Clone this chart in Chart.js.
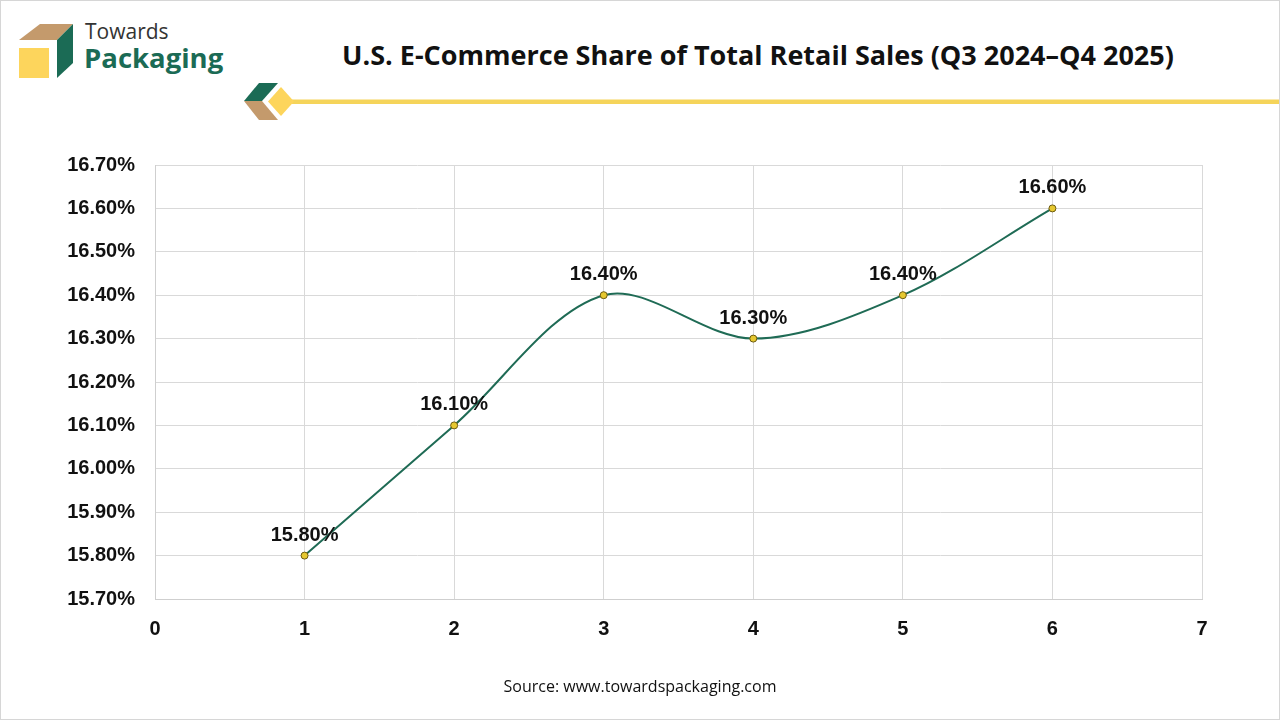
<!DOCTYPE html>
<html><head><meta charset="utf-8">
<script src="https://cdn.jsdelivr.net/npm/chart.js@4/dist/chart.umd.min.js"></script>
<style>
html,body{margin:0;padding:0;background:#fff;}
#wrap{position:relative;width:1280px;height:720px;overflow:hidden;background:#fff;}
#frame{position:absolute;left:0;top:0;width:1278px;height:718px;border:1px solid #d6d6d6;pointer-events:none;}
#chartBox{position:absolute;left:0;top:0;width:1280px;height:720px;}
#title{position:absolute;left:338px;top:36px;width:840px;text-align:center;font:bold 27px "Open Sans",sans-serif;color:#111;white-space:nowrap;}
#source{position:absolute;left:0;top:675px;width:1280px;text-align:center;font:16px "Open Sans",sans-serif;color:#111;}
#t1{position:absolute;left:85px;top:17px;font:400 21px "Open Sans",sans-serif;color:#333;}
#t2{position:absolute;left:84px;top:39px;font:700 27.5px "Open Sans",sans-serif;color:#1b6b55;}
svg{position:absolute;left:0;top:0;}
</style></head>
<body><div id="wrap">
<svg width="1280" height="130">
  <polygon points="40,24 73,24 57,40 19,40" fill="#c49a6c"/>
  <polygon points="57,40 73,24 73,63 57,78" fill="#1b6b55"/>
  <rect x="19" y="48" width="30" height="30" fill="#fdd55c"/>
  <polygon points="259,83 278,83 262,101 244,101" fill="#1b6b55"/>
  <polygon points="244,101 262,101 278,120 259,120" fill="#c49a6c"/>
  <rect x="288" y="99.5" width="992" height="4.5" fill="#f5d45a"/>
  <polygon points="281,87 294,101.5 281,116 268,101.5" fill="#fdd55c"/>
</svg>
<div id="t1">Towards</div>
<div id="t2">Packaging</div>
<div id="title">U.S. E-Commerce Share of Total Retail Sales (Q3 2024–Q4 2025)</div>
<div id="chartBox"><canvas id="c" width="1280" height="720"></canvas></div>
<div id="source">Source: www.towardspackaging.com</div>
<div id="frame"></div>
</div>
<script>
const quarters = [1, 2, 3, 4, 5, 6];
const shareValues = [15.80, 16.10, 16.40, 16.30, 16.40, 16.60];
const yTickMin = 15.7, yTickMax = 16.7, yStep = 0.1;
const xTickMin = 0, xTickMax = 7;

const points = quarters.map((q, i) => ({x: q, y: shareValues[i]}));

const labelPlugin = {
  id: 'dataLabels',
  afterDatasetsDraw(chart) {
    const ctx = chart.ctx;
    const meta = chart.getDatasetMeta(0);
    ctx.save();
    ctx.font = 'bold 20px "Liberation Sans", Arial, sans-serif';
    ctx.fillStyle = '#111';
    ctx.textAlign = 'center';
    ctx.textBaseline = 'alphabetic';
    meta.data.forEach((el, i) => {
      ctx.fillText(shareValues[i].toFixed(2) + '%', el.x, el.y - 15);
    });
    ctx.restore();
  }
};

new Chart(document.getElementById('c'), {
  type: 'scatter',
  data: { datasets: [{
    data: points,
    showLine: true,
    borderColor: '#1f6b55',
    borderWidth: 2,
    tension: 0.33,
    pointRadius: 3.5,
    pointBackgroundColor: '#e6c830',
    pointBorderColor: '#6b5a10',
    pointBorderWidth: 1
  }]},
  options: {
    responsive: false,
    animation: false,
    devicePixelRatio: 1,
    layout: { padding: { left: 40, right: 78, top: 165, bottom: 60 } },
    plugins: { legend: {display: false}, tooltip: {enabled: false} },
    scales: {
      x: {
        type: 'linear', min: xTickMin, max: xTickMax,
        ticks: { stepSize: 1, padding: 18, color: '#111', font: {family: '"Liberation Sans", Arial, sans-serif', size: 20, weight: 'bold'} },
        grid: { color: '#d9d9d9', drawTicks: false },
        border: { color: '#cfcfcf' },
        afterFit(s) { s.height = 61; }
      },
      y: {
        min: yTickMin, max: yTickMax,
        ticks: { stepSize: yStep, padding: 20, color: '#111',
          callback: v => Number(v).toFixed(2) + '%',
          font: {family: '"Liberation Sans", Arial, sans-serif', size: 20, weight: 'bold'} },
        grid: { color: '#d9d9d9', drawTicks: false },
        border: { color: '#cfcfcf' },
        afterFit(s) { s.width = 115; }
      }
    }
  },
  plugins: [labelPlugin]
});
</script>
</body></html>
